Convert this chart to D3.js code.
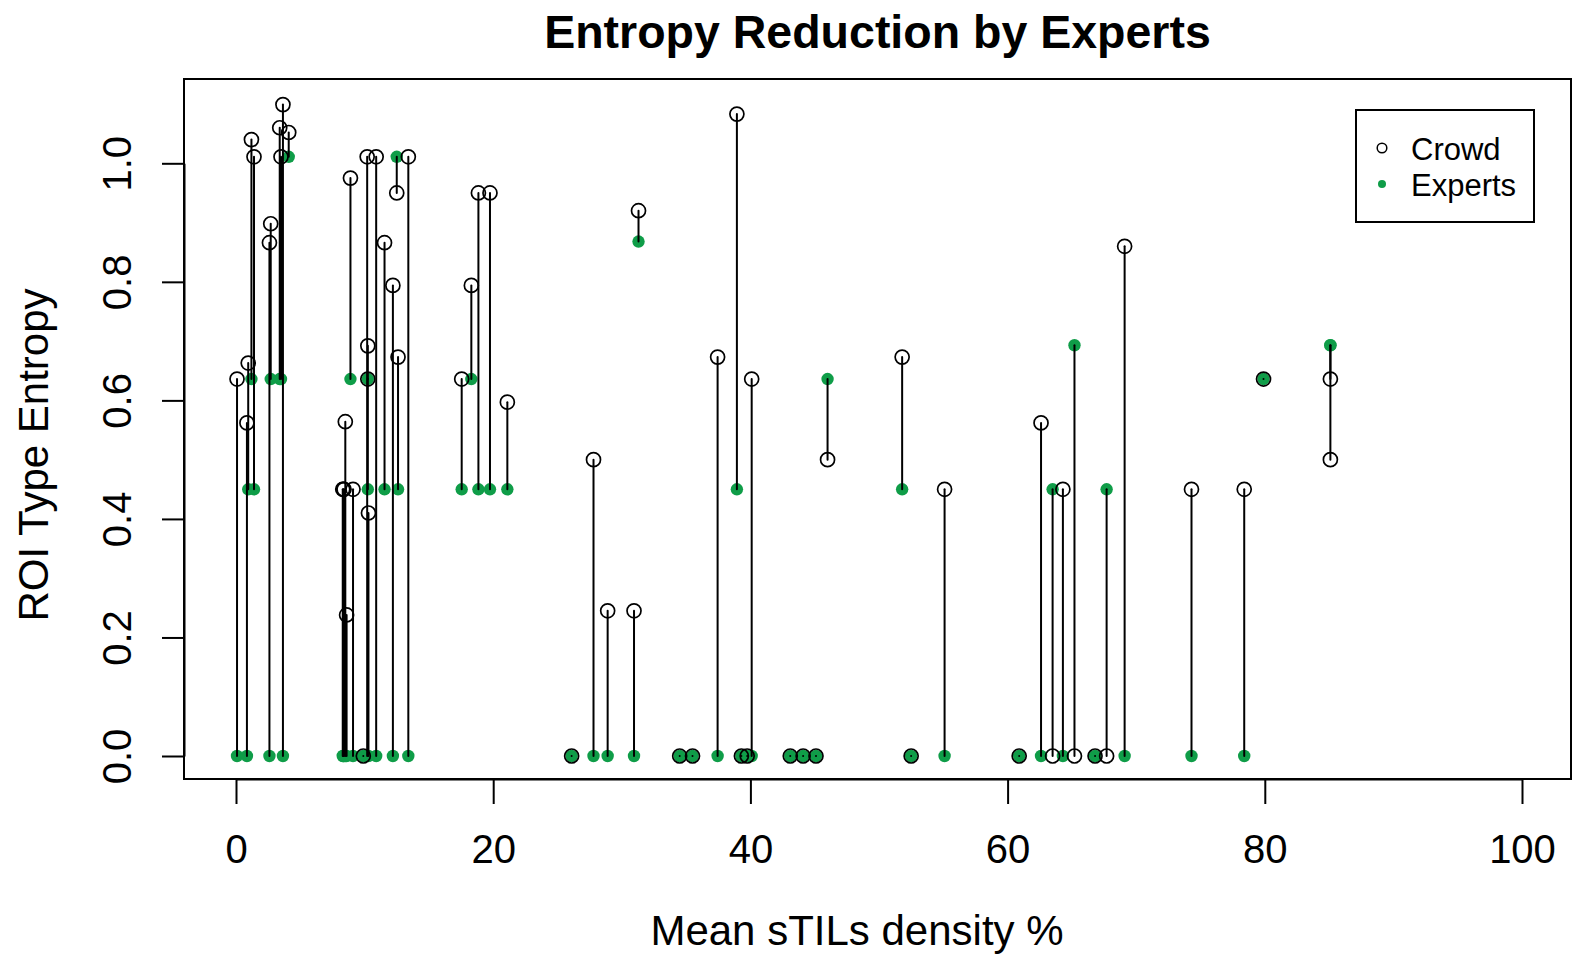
<!DOCTYPE html>
<html>
<head>
<meta charset="utf-8">
<script src="https://cdn.jsdelivr.net/npm/d3@7"></script>
<style>
  body { margin: 0; background: #fff; }
  svg { display: block; font-family: "Liberation Sans", Arial, sans-serif; }
</style>
</head>
<body>
<svg id="chart" width="1573" height="957"></svg>
<script>
"use strict";

// one entry per case : mean sTILs density (%), entropy of the crowd, entropy of the experts
var density = [
  0.08, 0.85, 0.95, 1.2, 1.4, 2.6, 2.7, 3.4, 3.5, 3.65, 4.1,
  8.3, 8.35, 8.4, 8.5, 8.6, 8.9, 9.1, 9.9, 10.2, 10.25, 10.25, 10.3, 10.9, 11.55, 12.2, 12.5, 12.6, 13.4,
  17.55, 18.3, 18.85, 19.75, 21.1,
  26.1, 27.8, 28.9, 30.95, 31.3, 34.5, 35.5, 37.45, 38.95, 39.3, 39.75, 40.1,
  43.1, 44.1, 45.1, 46.0, 51.8, 52.5, 55.1,
  60.9, 62.6, 63.5, 64.3, 65.2, 66.8, 67.7, 69.1,
  74.3, 78.4, 79.9, 85.1, 85.1
];
var crowdEntropy = [
  0.636, 0.562, 0.663, 1.04, 1.011, 0.866, 0.898, 1.06, 1.011, 1.099, 1.052,
  0.45, 0.45, 0.45, 0.564, 0.238, 0.975, 0.45, 0, 1.011, 0.692, 0.636, 0.41, 1.011, 0.866, 0.794, 0.95, 0.673, 1.011,
  0.636, 0.794, 0.95, 0.95, 0.597,
  0, 0.5, 0.245, 0.245, 0.92, 0, 0, 0.673, 1.083, 0, 0, 0.636,
  0, 0, 0, 0.5, 0.673, 0, 0.45,
  0, 0.562, 0, 0.45, 0, 0, 0, 0.86,
  0.45, 0.45, 0.636, 0.636, 0.5
];
var expertEntropy = [
  0, 0, 0.45, 0.636, 0.45, 0, 0.636, 0.636, 0.636, 0, 1.011,
  0, 0, 0, 0, 0, 0.636, 0, 0, 0, 0.45, 0.636, 0, 0, 0.45, 0, 1.011, 0.45, 0,
  0.45, 0.636, 0.45, 0.45, 0.45,
  0, 0, 0, 0, 0.868, 0, 0, 0, 0.45, 0, 0, 0,
  0, 0, 0, 0.636, 0.45, 0, 0,
  0, 0, 0.45, 0, 0.693, 0, 0.45, 0,
  0, 0, 0.636, 0.693, 0.693
];

var xTicks = [0, 20, 40, 60, 80, 100];
var yTicks = [0, 0.2, 0.4, 0.6, 0.8, 1.0];
var legendLabels = ["Crowd", "Experts"];

var green = "#0f9d48";

// plot box, like R's base graphics
var box = {left: 184, right: 1571, top: 79, bottom: 779};

var x = d3.scaleLinear().domain([0, 100]).range([236, 1522]);
var y = d3.scaleLinear().domain([0, 1]).range([756, 163.3]);

var svg = d3.select("#chart");

var cases = density.map(function(d, i) {
  return {x: d, crowd: crowdEntropy[i], expert: expertEntropy[i]};
});

// title
svg.append("text")
  .attr("x", (box.left + box.right) / 2)
  .attr("y", 48)
  .attr("text-anchor", "middle")
  .attr("font-size", "46.5px")
  .attr("font-weight", "bold")
  .text("Entropy Reduction by Experts");

var g = svg.append("g");

// experts first, crowd circles on top, then the segments
g.selectAll(".expert")
  .data(cases)
  .enter()
  .append("circle")
    .attr("class", "expert")
    .attr("cx", function(d) { return x(d.x); })
    .attr("cy", function(d) { return y(d.expert); })
    .attr("r", 6.2)
    .attr("fill", green);

g.selectAll(".crowd")
  .data(cases)
  .enter()
  .append("circle")
    .attr("class", "crowd")
    .attr("cx", function(d) { return x(d.x); })
    .attr("cy", function(d) { return y(d.crowd); })
    .attr("r", 7)
    .attr("fill", "none")
    .attr("stroke", "#000")
    .attr("stroke-width", 1.7);

g.selectAll(".seg")
  .data(cases)
  .enter()
  .append("line")
    .attr("class", "seg")
    .attr("x1", function(d) { return x(d.x); })
    .attr("x2", function(d) { return x(d.x); })
    .attr("y1", function(d) { return y(d.crowd); })
    .attr("y2", function(d) { return y(d.expert); })
    .attr("stroke", "#000")
    .attr("stroke-width", 2)
    .attr("stroke-linecap", "round");

// box
svg.append("rect")
  .attr("x", box.left)
  .attr("y", box.top)
  .attr("width", box.right - box.left)
  .attr("height", box.bottom - box.top)
  .attr("fill", "none")
  .attr("stroke", "#000")
  .attr("stroke-width", 2);

// x axis
var xAxis = d3.axisBottom(x).tickValues(xTicks).tickSize(25).tickSizeOuter(0).tickPadding(31)
  .tickFormat(d3.format("d"));
var gx = svg.append("g")
  .attr("transform", "translate(0," + box.bottom + ")")
  .call(xAxis);
gx.select(".domain").attr("stroke-width", 2);
gx.selectAll(".tick line").attr("stroke-width", 2);
gx.selectAll("text")
  .attr("font-size", "40px")
  .attr("font-family", "Liberation Sans, Arial, sans-serif")
  .attr("fill", "#000");

// y axis, labels parallel to the axis
var yAxis = d3.axisLeft(y).tickValues(yTicks).tickSize(22).tickSizeOuter(0)
  .tickFormat(d3.format(".1f"));
var gy = svg.append("g")
  .attr("transform", "translate(" + box.left + ",0)")
  .call(yAxis);
gy.select(".domain").attr("stroke-width", 2);
gy.selectAll(".tick line").attr("stroke-width", 2);
gy.selectAll("text")
  .attr("transform", "rotate(-90)")
  .attr("x", 0)
  .attr("y", -53)
  .attr("dy", 0)
  .attr("text-anchor", "middle")
  .attr("font-size", "40px")
  .attr("font-family", "Liberation Sans, Arial, sans-serif")
  .attr("fill", "#000");

// axis titles
svg.append("text")
  .attr("x", 857)
  .attr("y", 945)
  .attr("text-anchor", "middle")
  .attr("font-size", "42px")
  .text("Mean sTILs density %");

svg.append("text")
  .attr("transform", "translate(48,455) rotate(-90)")
  .attr("text-anchor", "middle")
  .attr("font-size", "42px")
  .text("ROI Type Entropy");

// legend
var legend = svg.append("g").attr("transform", "translate(1356,110)");
legend.append("rect")
  .attr("width", 178)
  .attr("height", 112)
  .attr("fill", "#fff")
  .attr("stroke", "#000")
  .attr("stroke-width", 2);

var items = legend.selectAll(".item")
  .data(legendLabels)
  .enter()
  .append("g")
    .attr("class", "item")
    .attr("transform", function(d, i) { return "translate(0," + (38 + i * 36) + ")"; });

items.append("circle")
  .attr("cx", 26)
  .attr("cy", 0)
  .attr("r", function(d, i) { return i === 0 ? 4.8 : 4; })
  .attr("fill", function(d, i) { return i === 0 ? "none" : green; })
  .attr("stroke", function(d, i) { return i === 0 ? "#000" : "none"; })
  .attr("stroke-width", 1.5);

items.append("text")
  .attr("x", 55)
  .attr("y", 12)
  .attr("font-size", "31px")
  .text(function(d) { return d; });
</script>
</body>
</html>
